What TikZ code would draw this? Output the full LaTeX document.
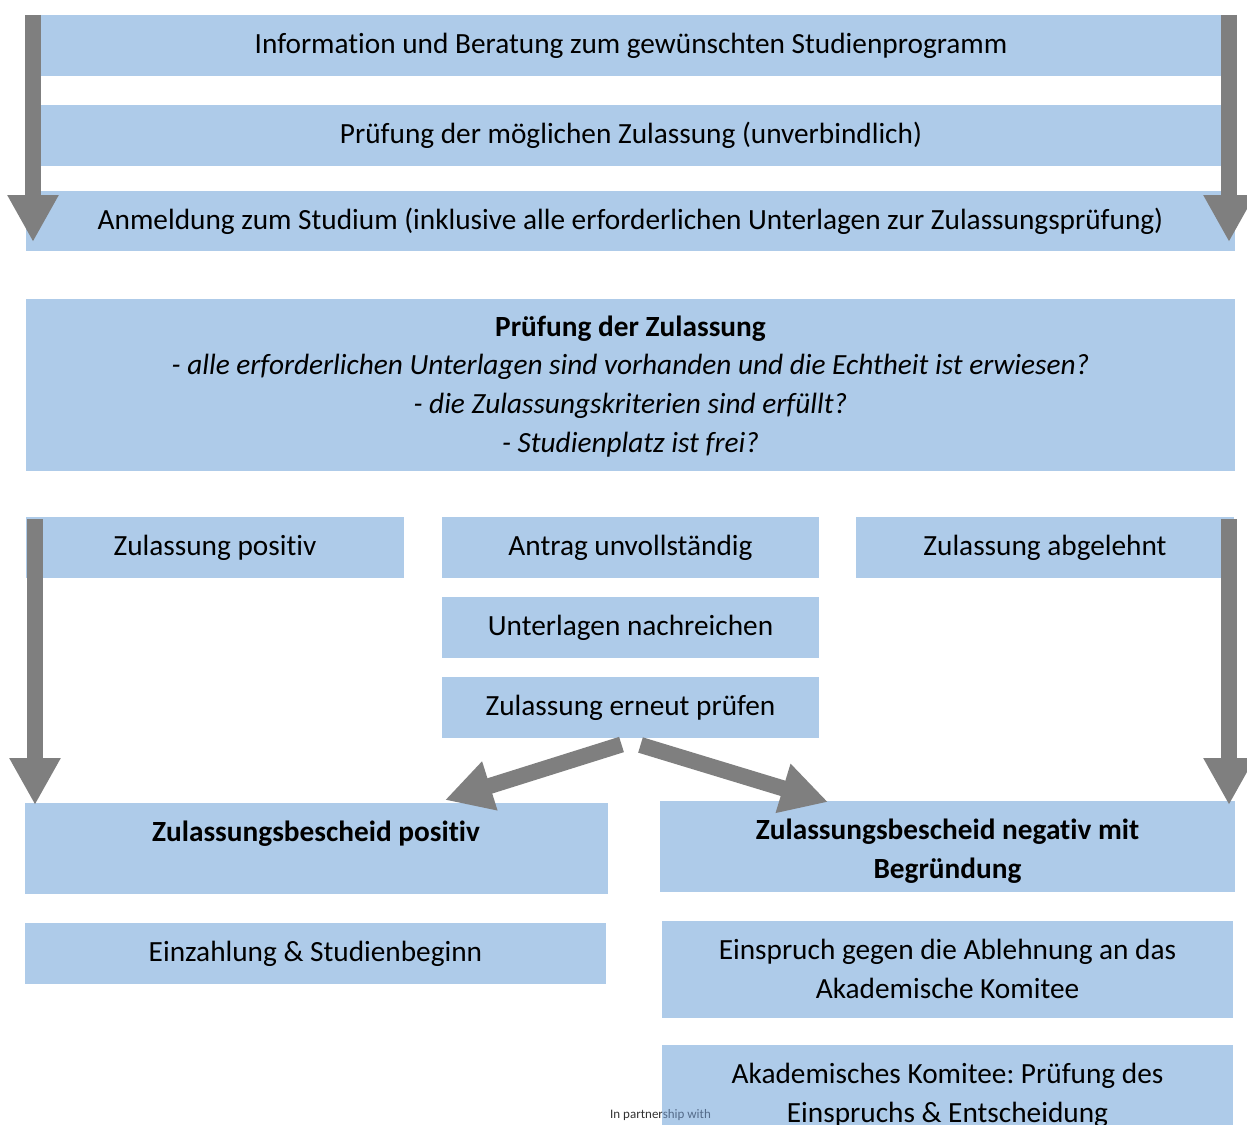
\documentclass[tikz,border=0pt]{standalone}
\usepackage{fontspec}
\setmainfont{Carlito}[Ligatures=CommonOff]
\usetikzlibrary{arrows.meta}
\definecolor{boxblue}{RGB}{174,203,233}
\definecolor{arrgray}{RGB}{127,127,127}
\definecolor{partnergray}{RGB}{50,50,50}
\definecolor{partnerblue}{RGB}{85,108,138}
\frenchspacing
\begin{document}
\begin{tikzpicture}[x=1pt,y=-1pt,
  box/.style={fill=boxblue, draw=none, inner sep=0pt, outer sep=0pt, anchor=north west, align=center,
    font=\fontsize{29.3}{38.5}\selectfont},
  linetext/.style={inner sep=0pt, anchor=base, font=\fontsize{29.3}{38.5}\selectfont},
  blockarrow/.style={draw=arrgray, line width=16pt, -{Triangle[length=47pt,width=48pt]}, color=arrgray},
  partnertext/.style={inner sep=0pt, anchor=base west, font=\fontsize{13}{15}\selectfont}]
\useasboundingbox (0,0) rectangle (1247,1124);

% top block
\node[box, minimum width=1180pt, minimum height=61pt] (info) at (41,15)
  {Information und Beratung zum gewünschten Studienprogramm};
\node[box, minimum width=1180pt, minimum height=61pt] (vorpr) at (41,105)
  {Prüfung der möglichen Zulassung (unverbindlich)};
\node[box, minimum width=1209pt, minimum height=60pt] (anm) at (26,191)
  {Anmeldung zum Studium (inklusive alle erforderlichen Unterlagen zur Zulassungsprüfung)};

\node[box, minimum width=1209pt, minimum height=172pt] (pruef) at (26,299) {};
\node[linetext] (pruef1) at (630.5,336) {\textbf{Prüfung der Zulassung}};
\node[linetext] (pruef2) at (630.5,374.5) {\textit{- alle erforderlichen Unterlagen sind vorhanden und die Echtheit ist erwiesen?}};
\node[linetext] (pruef3) at (630.5,413.5) {\textit{- die Zulassungskriterien sind erfüllt?}};
\node[linetext] (pruef4) at (630.5,452.5) {\textit{- Studienplatz ist frei?}};

% middle row
\node[box, minimum width=378pt, minimum height=61pt] (pos) at (26,517) {Zulassung positiv};
\node[box, minimum width=377pt, minimum height=61pt] (unv) at (442,517) {Antrag unvollständig};
\node[box, minimum width=378pt, minimum height=61pt] (abg) at (856,517) {Zulassung abgelehnt};
\node[box, minimum width=377pt, minimum height=61pt] (nach) at (442,597) {Unterlagen nachreichen};
\node[box, minimum width=377pt, minimum height=61pt] (ern) at (442,677) {Zulassung erneut prüfen};

% results
\node[box, minimum width=583pt, minimum height=91pt] (zbp) at (25,803) {};
\node[linetext] (zbpt) at (316,841) {\textbf{Zulassungsbescheid positiv}};
\node[box, minimum width=575pt, minimum height=91pt] (zbn) at (660,801) {};
\node[linetext] (zbn1) at (947.5,839.5) {\textbf{Zulassungsbescheid negativ mit}};
\node[linetext] (zbn2) at (947.5,878) {\textbf{Begründung}};
\node[box, minimum width=581pt, minimum height=61pt] (einz) at (25,923) {Einzahlung \& Studienbeginn};
\node[box, minimum width=571pt, minimum height=97pt] (einsp) at (662,921) {};
\node[linetext] (einsp1) at (947.5,959.5) {Einspruch gegen die Ablehnung an das};
\node[linetext] (einsp2) at (947.5,998) {Akademische Komitee};

\node[partnertext, text=partnergray] (partner) at (610,1118) {In partnership with};
\node[box, minimum width=571pt, minimum height=97pt] (akad) at (662,1045) {};
\begin{scope}
  \clip (akad.north west) rectangle (akad.south east);
  \node[partnertext, text=partnerblue] at (partner.base west) {In partnership with};
\end{scope}
\node[linetext] (akad1) at (947.5,1083.5) {Akademisches Komitee: Prüfung des};
\node[linetext] (akad2) at (947.5,1122) {Einspruchs \& Entscheidung};

% arrows
\coordinate (l1s) at (33,15);   \coordinate (l1e) at (33,242);
\coordinate (r1s) at (1229,15); \coordinate (r1e) at (1229,242);
\coordinate (l2s) at (35,519);  \coordinate (l2e) at (35,805);
\coordinate (r2s) at (1229,519);\coordinate (r2e) at (1229,805);
\coordinate (dls) at (621.5,744.5); \coordinate (dle) at (445,800);
\coordinate (drs) at (640.5,745);   \coordinate (dre) at (828,802);
\draw[blockarrow] (l1s) -- (l1e);
\draw[blockarrow] (r1s) -- (r1e);
\draw[blockarrow] (l2s) -- (l2e);
\draw[blockarrow] (r2s) -- (r2e);
\draw[blockarrow] (dls) -- (dle);
\draw[blockarrow] (drs) -- (dre);
\end{tikzpicture}
\end{document}
